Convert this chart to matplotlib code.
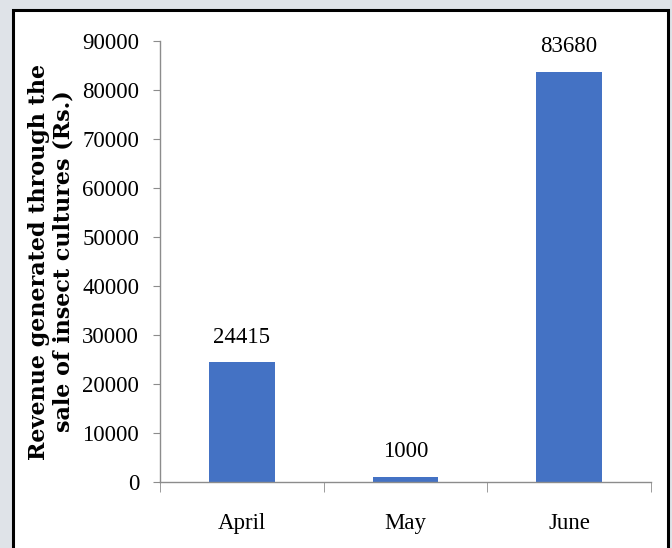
import numpy as np
import matplotlib.pyplot as plt
from matplotlib.patches import Rectangle

# Data
months = ["April", "May", "June"]
revenue = [24415, 1000, 83680]
y_ticks = [0, 10000, 20000, 30000, 40000, 50000, 60000, 70000, 80000, 90000]

bar_color = "#4472C4"
axis_color = "#8c8c8c"

fig = plt.figure(figsize=(6.72, 5.48), dpi=100)
fig.patch.set_facecolor("#dfe3e8")

# white panel with black frame
frame = Rectangle((13 / 672, -0.05), (668 - 13) / 672, 1.05 - 10 / 548,
                  transform=fig.transFigure, facecolor="white",
                  edgecolor="black", linewidth=2.2, zorder=-10)
fig.patches.append(frame)

ax = fig.add_axes([160 / 672, 1 - 482 / 548, (651 - 160) / 672, (482 - 41) / 548])
ax.set_facecolor("none")

x = np.arange(len(months))
bars = ax.bar(x, revenue, width=0.4, color=bar_color, zorder=2)

for xi, v in zip(x, revenue):
    ax.text(xi, v + 3000, str(v), ha="center", va="bottom",
            family="Liberation Serif", fontsize=16.5)

ax.set_xlim(-0.5, 2.5)
ax.set_ylim(0, 90000)
ax.set_yticks(y_ticks)
ax.set_yticklabels([str(t) for t in y_ticks], family="Liberation Serif", fontsize=16.5)
ax.set_xticks(x)
ax.set_xticklabels(months, family="Liberation Serif", fontsize=16.5)
ax.set_xticks([-0.5, 0.5, 1.5, 2.5], minor=True)

ax.tick_params(axis="x", which="major", length=0, pad=22)
ax.tick_params(axis="x", which="minor", length=7, color=axis_color, direction="out")
ax.tick_params(axis="y", length=5, color=axis_color, direction="out", pad=10)

for s in ["top", "right"]:
    ax.spines[s].set_visible(False)
for s in ["left", "bottom"]:
    ax.spines[s].set_color(axis_color)
    ax.spines[s].set_linewidth(1)

ax.set_ylabel("Revenue generated through the\nsale of insect cultures (Rs.)",
              family="DejaVu Serif", fontweight="bold", fontsize=16,
              linespacing=1.1)
ax.yaxis.set_label_coords(-0.175, 0.5)

fig.savefig("out.png", dpi=100)
